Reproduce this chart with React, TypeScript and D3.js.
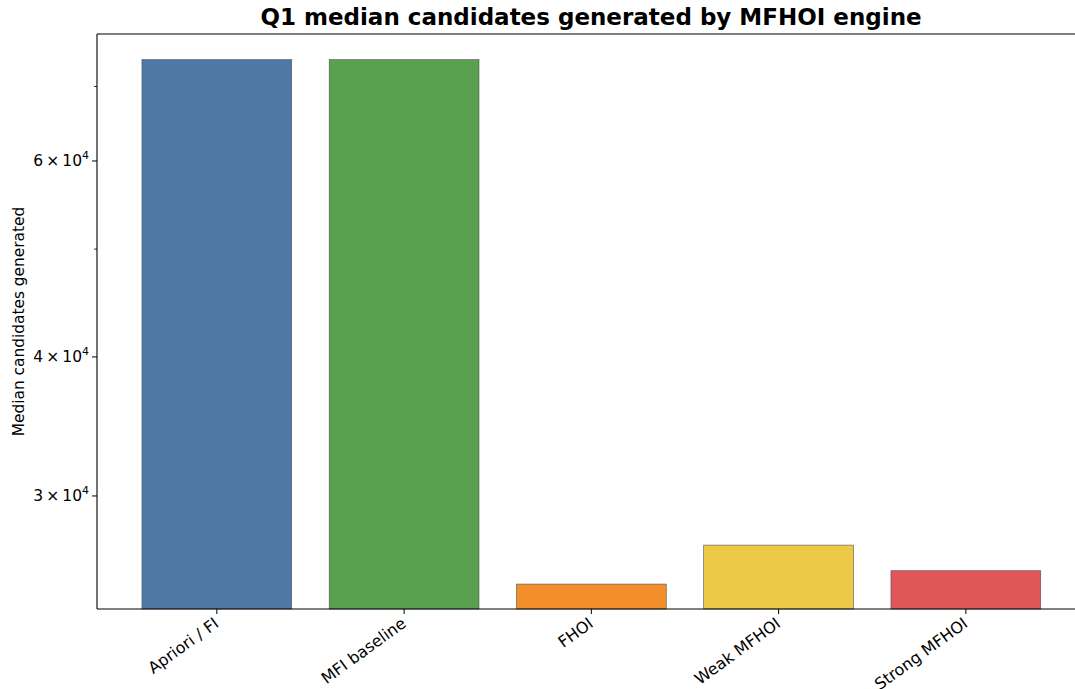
import React from "react";
import * as d3 from "d3";

const categories = ["Apriori / FI", "MFI baseline", "FHOI", "Weak MFHOI", "Strong MFHOI"];
const values = [74000, 74000, 25000, 27100, 25700];
const colors = ["#4e79a7", "#59a14f", "#f28e2b", "#edc948", "#e15759"];
const majorTicks = [30000, 40000, 60000];
const minorTicks = [50000, 70000];

const W = 1075, H = 689;
const left = 97, right = 1085.7, top = 34, bottom = 609;
const font = "'DejaVu Sans', sans-serif";

export default function App() {
  const x = d3.scaleBand<string>().domain(categories).range([left, right]).paddingInner(0.2).paddingOuter(0.24);
  const y = d3.scaleLog().domain([23743, 78030]).range([bottom, top]);
  return (
    <svg width={W} height={H} style={{ position: "absolute", left: 0, top: 0, background: "#fff" }} fontFamily={font}>
      <rect x={0} y={0} width={W} height={H} fill="#fff" />
      <text x={591} y={25} textAnchor="middle" fontSize={23} fontWeight="bold" fill="#000">
        Q1 median candidates generated by MFHOI engine
      </text>
      {categories.map((c, i) => (
        <rect key={c} x={x(c)} y={y(values[i])} width={x.bandwidth()} height={bottom - y(values[i])}
          fill={colors[i]} stroke="#555" strokeWidth={0.6} />
      ))}
      <line x1={left} x2={left} y1={top} y2={bottom} stroke="#000" strokeWidth={1.1} />
      <line x1={left} x2={W} y1={bottom} y2={bottom} stroke="#000" strokeWidth={1.1} />
      <line x1={left} x2={W} y1={top} y2={top} stroke="#000" strokeWidth={1.1} />
      {majorTicks.map((t) => (
        <g key={t}>
          <line x1={left - 5} x2={left} y1={y(t)} y2={y(t)} stroke="#000" strokeWidth={1} />
          <text x={left - 8} y={y(t) + 5.5} textAnchor="end" fontSize={15.5} fill="#000">
            {`${t / 10000}\u2009×\u200910`}
            <tspan dy={-7.5} fontSize={11}>4</tspan>
          </text>
        </g>
      ))}
      {minorTicks.map((t) => (
        <line key={t} x1={left - 3} x2={left} y1={y(t)} y2={y(t)} stroke="#000" strokeWidth={0.8} />
      ))}
      {categories.map((c) => {
        const cx = (x(c) as number) + x.bandwidth() / 2;
        return (
          <g key={c}>
            <line x1={cx} x2={cx} y1={bottom} y2={bottom + 5} stroke="#000" strokeWidth={1} />
            <text transform={`translate(${cx - 4},${bottom + 7}) rotate(-36)`} textAnchor="end" dy="0.75em" fontSize={16} fill="#000">
              {c}
            </text>
          </g>
        );
      })}
      <text transform={`translate(24,${(top + bottom) / 2}) rotate(-90)`} textAnchor="middle" fontSize={15.4} fill="#000">
        Median candidates generated
      </text>
    </svg>
  );
}
